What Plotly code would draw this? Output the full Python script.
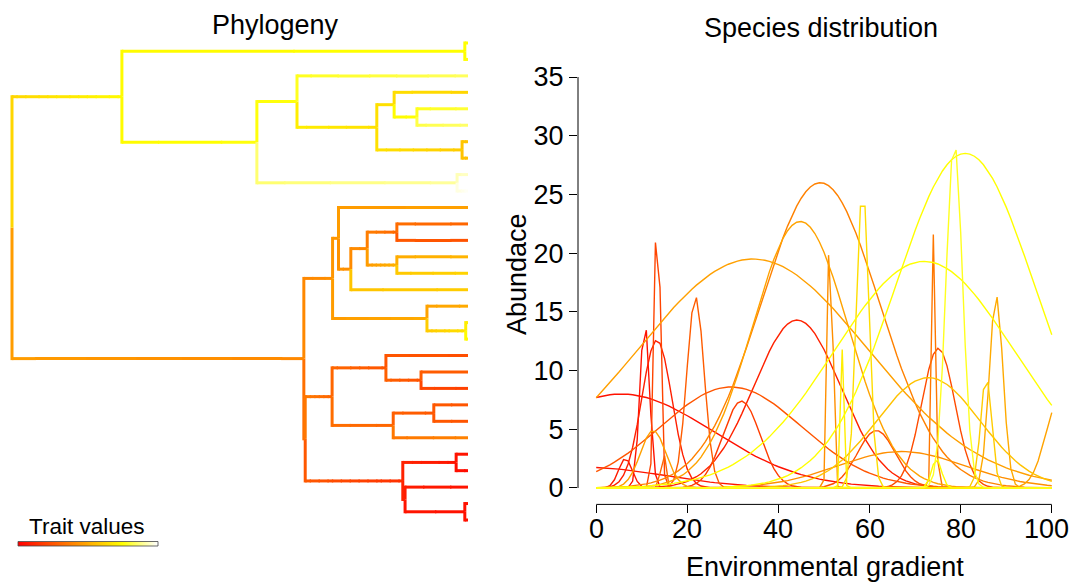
import math
import numpy as np
import plotly.graph_objects as go

W, H = 1073, 583

# ---------------- Phylogeny: topology, node depths, trait values ----------------
node_names = ['root', 'A', 'K1', 't1', 't2', 'B', 'C', 't3', 'D', 'E', 't4', 'F', 't5', 't6', 'G', 't7', 't8',
              'H', 't9', 't10',
              'L', 'M', 'P', 't11', 'Q', 'R', 'S', 't12', 't13', 'T', 't14', 't15', 't16', 'U', 't17', 'U2',
              't18', 't19',
              'N', 'V', 'X', 't20', 'Y', 't21', 't22', 'Z', 'AA', 't23', 't24', 't25', 'W', 'AB', 't26', 't27',
              'W2', 't28', 'AC', 't29', 't30']
node_parent = [None, 'root', 'A', 'K1', 'K1', 'A', 'B', 'C', 'C', 'D', 'E', 'E', 'F', 'F', 'D', 'G', 'G',
               'B', 'H', 'H',
               'root', 'L', 'M', 'P', 'P', 'Q', 'R', 'S', 'S', 'R', 'T', 'T', 'Q', 'M', 'U', 'U',
               'U2', 'U2',
               'L', 'N', 'V', 'X', 'X', 'Y', 'Y', 'V', 'Z', 'AA', 'AA', 'Z', 'N', 'W', 'AB', 'AB',
               'W', 'W2', 'W2', 'AC', 'AC']
node_depth = [0.0, 0.241, 0.993, 1, 1, 0.537, 0.625, 1, 0.800, 0.838, 1, 0.888, 1, 1, 0.987, 1, 1,
              0.976, 1, 1,
              0.640, 0.703, 0.716, 1, 0.743, 0.779, 0.844, 1, 1, 0.844, 1, 1, 1, 0.910, 1, 0.995,
              1, 1,
              0.643, 0.702, 0.820, 1, 0.897, 1, 1, 0.836, 0.925, 1, 1, 1, 0.857, 0.974, 1, 1,
              0.862, 1, 0.993, 1, 1]
# trait value at the start of the branch leading to each node, and at the node itself
trait_start = [0.55, 0.63, 0.74, 0.75, 0.75, 0.74, 0.76, 0.78, 0.70, 0.66, 0.65, 0.74, 0.78, 0.82, 0.66, 0.58, 0.57,
               0.86, 0.93, 0.97,
               0.46, 0.40, 0.44, 0.46, 0.43, 0.41, 0.37, 0.32, 0.26, 0.46, 0.51, 0.59, 0.58, 0.46, 0.48, 0.60,
               0.70, 0.74,
               0.33, 0.35, 0.30, 0.25, 0.28, 0.27, 0.21, 0.32, 0.28, 0.26, 0.26, 0.35, 0.26, 0.10, 0.06, 0.04,
               0.10, 0.08, 0.06, 0.05, 0.05]
trait_node = [0.55, 0.74, 0.75, 0.75, 0.76, 0.76, 0.76, 0.84, 0.66, 0.66, 0.63, 0.75, 0.80, 0.85, 0.60, 0.57, 0.56,
              0.90, 0.94, 0.99,
              0.40, 0.42, 0.44, 0.47, 0.42, 0.40, 0.30, 0.30, 0.24, 0.52, 0.53, 0.62, 0.60, 0.50, 0.50, 0.66,
              0.70, 0.75,
              0.33, 0.30, 0.25, 0.23, 0.24, 0.27, 0.19, 0.30, 0.26, 0.25, 0.25, 0.38, 0.14, 0.06, 0.06, 0.03,
              0.10, 0.06, 0.05, 0.05, 0.04]

# ---------------- Species distribution: niche optimum, breadth, peak abundance, trait ----------------
sp_optimum = [81.0, 72.0, 49.2, 44.8, 34.4, 44.1, 29.6, 5.5, 13.3, 10.65, 13.42, 21.8, 31.9, 51.37, 58.5,
              54.0, 74.1, 78.6, 75.1, 72.9, 87.8, 85.6, 61.5, 67.0, 74.7, 14.7, 6.4, 12.5, -2.0, 102.0]
sp_breadth = [15.2, 19.7, 13.0, 10.5, 25.2, 9.5, 15.5, 20.0, 3.3, 1.05, 0.63, 1.9, 4.1, 0.51, 1.35,
              0.35, 0.42, 1.8, 3.66, 11.4, 1.5, 1.2, 4.15, 14.0, 1.07, 0.5, 1.5, 2.8, 17.0, 3.2]
sp_peak = [28.5, 19.3, 26.0, 22.7, 19.5, 14.3, 8.6, 8.0, 12.6, 14.2, 26.1, 16.3, 7.4, 25.8, 25.7,
           11.8, 22.2, 29.5, 11.9, 9.4, 16.4, 9.5, 4.9, 3.1, 2.5, 3.3, 2.5, 4.9, 1.75, 7.8]
sp_trait = [0.75, 0.75, 0.38, 0.48, 0.47, 0.10, 0.25, 0.05, 0.09, 0.05, 0.20, 0.27, 0.18, 0.42, 0.65,
            0.70, 0.35, 0.78, 0.22, 0.57, 0.50, 0.60, 0.23, 0.42, 0.74, 0.30, 0.08, 0.47, 0.06, 0.48]
gradient = np.arange(0, 101, 1)

x_ticks = [0, 20, 40, 60, 80, 100]
y_ticks = [0, 5, 10, 15, 20, 25, 30, 35]

FONT = "Liberation Sans, Arial, Helvetica, sans-serif"


def heat(t):
    t = min(max(t, 0.0), 1.0)
    if t <= 0.75:
        return 'rgb(255,%d,0)' % round(255 * t / 0.75)
    return 'rgb(255,255,%d)' % round(255 * (t - 0.75) / 0.25)


heat_scale = [[0.0, 'rgb(255,0,0)'], [0.75, 'rgb(255,255,0)'], [1.0, 'rgb(255,255,255)']]

# ---- tree layout ----
idx = {n: i for i, n in enumerate(node_names)}
children = {n: [] for n in node_names}
for n, p in zip(node_names, node_parent):
    if p is not None:
        children[p].append(n)
tips = [n for n in node_names if not children[n]]
ypos = {t: i + 1 for i, t in enumerate(tips)}


def get_y(n):
    if n in ypos:
        return ypos[n]
    ch = children[n]
    ypos[n] = (get_y(ch[0]) + get_y(ch[-1])) / 2.0
    return ypos[n]


get_y('root')

groups = {}


def tbin(val):
    return int(round(min(max(val, 0), 1) * 100))


def add_seg(b, x0, x1, y0, y1):
    g = groups.setdefault(b, ([], []))
    g[0].extend([x0, x1, None])
    g[1].extend([y0, y1, None])


half_lw = 1.5 / 16.448
overlap = 0.003
for n in node_names:
    p = node_parent[idx[n]]
    if p is None:
        continue
    dp, dn = node_depth[idx[p]], node_depth[idx[n]]
    yp, yn = ypos[p], ypos[n]
    s, e = trait_start[idx[n]], trait_node[idx[n]]
    sign = 1 if yn > yp else -1
    add_seg(tbin(s), dp, dp, yp, yn + sign * half_lw)
    nseg = max(1, int(math.ceil((dn - dp) / 0.01)))
    runs = []
    for k in range(nseg):
        b = tbin(s + (e - s) * (k + 0.5) / nseg)
        x0 = dp + (dn - dp) * k / nseg
        x1 = dp + (dn - dp) * (k + 1) / nseg
        if runs and runs[-1][0] == b:
            runs[-1][2] = x1
        else:
            runs.append([b, x0, x1])
    for j, (b, x0, x1) in enumerate(runs):
        ext = overlap if j < len(runs) - 1 else 0
        add_seg(b, x0, x1 + ext, yn, yn)

fig = go.Figure()
for b in sorted(groups):
    xs, ys = groups[b]
    fig.add_trace(go.Scatter(x=xs, y=ys, mode='lines', line=dict(color=heat(b / 100.0), width=3),
                             hoverinfo='skip', showlegend=False, xaxis='x', yaxis='y'))

# ---- species curves ----
order = sorted(range(len(sp_optimum)), key=lambda i: sp_trait[i])
for i in order:
    yv = sp_peak[i] * np.exp(-(gradient - sp_optimum[i]) ** 2 / (2 * sp_breadth[i] ** 2))
    fig.add_trace(go.Scatter(x=gradient, y=yv, mode='lines', line=dict(color=heat(sp_trait[i]), width=1.4),
                             hoverinfo='skip', showlegend=False, xaxis='x2', yaxis='y2'))

# ---- trait colour bar ----
bar_vals = np.linspace(0, 1, 141)
fig.add_trace(go.Heatmap(z=[bar_vals], x=bar_vals, colorscale=heat_scale, zmin=0, zmax=1, showscale=False,
                         hoverinfo='skip', xaxis='x3', yaxis='y3'))

px_x = lambda v: v / W
px_y = lambda v: 1 - v / H

hidden = dict(visible=False, showgrid=False, zeroline=False, fixedrange=True)
fig.update_layout(
    width=W, height=H, margin=dict(l=0, r=0, t=0, b=0),
    paper_bgcolor='white', plot_bgcolor='white',
    font=dict(family=FONT, color='black'),
    xaxis=dict(domain=[0, px_x(468)], range=[-12 / 456.0, 1.0], **hidden),
    yaxis=dict(domain=[0, 1], range=[33.83, -1.614], **hidden),
    xaxis2=dict(domain=[px_x(578), px_x(1070)], range=[-4, 104], anchor='y2', tickmode='array',
                tickvals=x_ticks, ticks='outside', ticklen=8, showticklabels=False,
                tickwidth=1, tickcolor='black', showline=False, showgrid=False, zeroline=False),
    yaxis2=dict(domain=[px_y(504.4), px_y(60.6)], range=[-1.4, 36.4], anchor='x2', tickmode='array',
                tickvals=y_ticks, ticktext=[str(v) for v in y_ticks], ticks='outside', ticklen=8,
                tickwidth=1, tickcolor='black', showline=False, showgrid=False, zeroline=False,
                tickfont=dict(size=27, family=FONT, color='black')),
    xaxis3=dict(domain=[px_x(18), px_x(158)], anchor='y3', **hidden),
    yaxis3=dict(domain=[px_y(546), px_y(541.5)], anchor='x3', **hidden),
)

fig.add_shape(type='line', xref='x2', yref='y2 domain', x0=0, x1=100, y0=0, y1=0,
              line=dict(color='black', width=1))
fig.add_shape(type='line', xref='x2 domain', yref='y2', x0=0, x1=0, y0=0, y1=35,
              line=dict(color='black', width=1))
fig.add_shape(type='rect', xref='x3 domain', yref='y3 domain', x0=0, x1=1, y0=0, y1=1,
              line=dict(color='#444444', width=0.8))

# x tick labels (last one kept inside the page like the reference)
for v in x_ticks:
    fig.add_annotation(text=str(v), x=v, xref='x2', y=px_y(529), yref='paper', showarrow=False,
                       xanchor='right' if v == x_ticks[-1] else 'center', yanchor='middle',
                       xshift=19 if v == x_ticks[-1] else 0,
                       font=dict(size=27, family=FONT, color='black'))

ann = [
    ("Phylogeny", 275, 25, 27, 0),
    ("Species distribution", 821, 28, 27, 0),
    ("Environmental gradient", 825, 567, 27, 0),
    ("Abundace", 517, 274, 27, -90),
    ("Trait values", 86, 526, 22.5, 0),
]
for text, x, y, size, ang in ann:
    fig.add_annotation(text=text, x=px_x(x), y=px_y(y), xref='paper', yref='paper', showarrow=False,
                       xanchor='center', yanchor='middle', textangle=ang,
                       font=dict(size=size, family=FONT, color='black'))

fig.write_html("out.html")
